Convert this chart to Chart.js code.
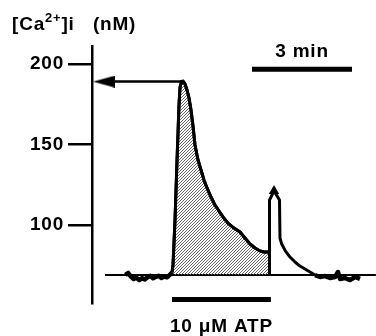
<!DOCTYPE html>
<html>
<head>
<meta charset="utf-8">
<script src="https://cdn.jsdelivr.net/npm/chart.js@4/dist/chart.umd.min.js"></script>
<style>
  body { margin: 0; background: #fff; }
  canvas { display: block; }
</style>
</head>
<body>
<canvas id="chart" width="376" height="336"></canvas>
<script>
// time in seconds, [Ca2+]i in nM
const timeS = [60, 65, 70, 75, 80, 85, 90, 95, 100, 105, 110, 115, 120, 125, 130, 135, 140, 144,
    145.8, 149.4, 153, 156.6, 158.4, 161, 163.8,
    167.4, 171, 174.6, 178.2, 181.8, 185.4, 190.8, 196.2, 201.6, 207, 214.2, 221.4, 228.6, 235.8,
    244.8, 255.6, 266.4, 275.4, 284.4, 293.4, 302.4, 309.6, 316.8, 319.5,
    319.5, 327.6, 337.5, 338.4, 341.5, 348, 356.4, 365.4, 374.4, 383.4, 392.4, 401.4,
    410.4, 419.4, 428.4, 437.4, 442.8, 446.4, 455.4, 464.4, 473.4, 482.4];
const caNM = [69.0, 70.2, 68.0, 66.5, 67.3, 65.8, 67.0, 66.2, 67.6, 68.4, 66.9, 67.8, 68.5, 67.1, 68.0, 67.5, 69.0, 70.5,
    75.2, 103, 140, 174.5, 185.5, 189.1, 189.3,
    187.6, 183.9, 178.9, 171.4, 161.5, 149.7, 140.4, 134.2, 128, 123, 117.4, 112.4, 108.7, 105,
    101.2, 98.1, 95.7, 91.9, 88.2, 85.7, 83.9, 83.2, 83.2, 83.2,
    115.5, 121.2, 115.5, 91.9, 88.2, 83.9, 80.1, 77, 74.5, 72.7, 70.8, 68.9,
    67.7, 68.3, 67.1, 67.7, 70.8, 66.5, 67.1, 65.8, 67.7, 66.5];

const yTicks = [100, 150, 200];
const baselineNM = 69;
const peakNM = 189.1;
const peakTime = 161;
const atpOn = 144;
const atpOff = 322;
const washTime = 319.5;
const tipTime = 327.6;
const scaleBarStart = 288;
const scaleBarLen = 180;   // 3 min

const FAMILY = '"Liberation Sans", Arial, Helvetica, sans-serif';
const FONT = 'bold 19px ' + FAMILY;

const trace = timeS.map((t, i) => ({ x: t, y: caNM[i] }));
const startIdx = timeS.indexOf(atpOn);
const washIdx = timeS.indexOf(washTime);
const shaded = trace.slice(startIdx, washIdx + 1).concat([{ x: washTime, y: baselineNM }]);
const tip = trace.filter(p => p.x === tipTime);

// diagonal hatching for the ATP response
const hatchCanvas = document.createElement('canvas');
hatchCanvas.width = 3;
hatchCanvas.height = 3;
const hg = hatchCanvas.getContext('2d');
hg.strokeStyle = '#5a5a5a';
hg.lineWidth = 0.9;
hg.beginPath();
hg.moveTo(0, 3); hg.lineTo(3, 0);
hg.moveTo(-1, 1); hg.lineTo(1, -1);
hg.moveTo(2, 4); hg.lineTo(4, 2);
hg.stroke();
const ctx = document.getElementById('chart').getContext('2d');
const hatch = ctx.createPattern(hatchCanvas, 'repeat');

// arrow head pointing at the y axis
const head = document.createElement('canvas');
head.width = 22;
head.height = 12;
const hh = head.getContext('2d');
hh.fillStyle = '#000';
hh.beginPath();
hh.moveTo(0, 6); hh.lineTo(22, 0); hh.lineTo(22, 12);
hh.closePath();
hh.fill();

const labels = {
    id: 'labels',
    beforeDraw(chart) {
        chart.ctx.letterSpacing = '0.8px';
    },
    afterDraw(chart) {
        const c = chart.ctx;
        const x = chart.scales.x;
        const y = chart.scales.y;
        c.save();
        c.fillStyle = '#000';
        c.textBaseline = 'alphabetic';
        c.font = FONT;
        c.textAlign = 'left';
        let px = 12;
        c.fillText('[Ca', px, 30);
        px += c.measureText('[Ca').width;
        c.font = 'bold 13px ' + FAMILY;
        c.fillText('2+', px, 22);
        px += c.measureText('2+').width;
        c.font = FONT;
        c.fillText(']i   (nM)', px, 30);

        c.textAlign = 'center';
        c.fillText('3 min', x.getPixelForValue(scaleBarStart + scaleBarLen / 2), y.getPixelForValue(196.8) - 12);
        c.fillText('10 \u03bcM ATP', x.getPixelForValue((atpOn + atpOff) / 2), 332);
        c.restore();
    }
};

new Chart(ctx, {
    type: 'line',
    data: {
        datasets: [
            {
                data: tip,
                borderWidth: 0,
                pointStyle: 'triangle',
                pointRadius: 6,
                pointBackgroundColor: '#000',
                pointBorderWidth: 0,
                showLine: false
            },
            {
                data: trace,
                borderColor: '#000',
                borderWidth: 3,
                borderJoinStyle: 'round',
                pointRadius: 0,
                fill: false,
                segment: {
                    borderWidth: s => (s.p0.parsed.x < atpOn || s.p0.parsed.x > 400) ? 4.5 : 3
                }
            },
            {
                data: shaded,
                borderColor: '#000',
                borderWidth: 3,
                pointRadius: 0,
                backgroundColor: hatch,
                fill: { value: baselineNM },
                order: 5
            },
            {
                data: [{ x: 23.4, y: baselineNM }, { x: 511, y: baselineNM }],
                borderColor: '#000',
                borderWidth: 2,
                pointRadius: 0,
                order: 6
            },
            {
                data: [{ x: 21.6, y: peakNM }, { x: peakTime, y: peakNM }],
                borderColor: '#000',
                borderWidth: 2.5,
                pointStyle: head,
                pointRadius: c => c.dataIndex === 0 ? 6 : 0
            },
            {
                data: [{ x: scaleBarStart, y: 196.8 }, { x: scaleBarStart + scaleBarLen, y: 196.8 }],
                borderColor: '#000',
                borderWidth: 5,
                pointRadius: 0,
                clip: false
            },
            {
                data: [{ x: atpOn, y: 53.7 }, { x: atpOff, y: 53.7 }],
                borderColor: '#000',
                borderWidth: 5,
                pointRadius: 0,
                clip: false
            }
        ]
    },
    options: {
        responsive: false,
        animation: false,
        devicePixelRatio: 1,
        layout: { autoPadding: false, padding: { top: 46, bottom: 33, left: 0, right: 0 } },
        plugins: {
            legend: { display: false },
            tooltip: { enabled: false }
        },
        scales: {
            x: {
                type: 'linear',
                display: false,
                min: 0,
                max: 511.2
            },
            y: {
                min: 51.55,
                max: 211.2,
                afterFit(scale) { scale.width = 92; },
                afterBuildTicks(scale) { scale.ticks = yTicks.map(v => ({ value: v })); },
                border: { display: true, color: '#000', width: 2.5 },
                grid: {
                    drawOnChartArea: false,
                    drawTicks: true,
                    tickLength: 24,
                    color: '#000',
                    lineWidth: 2.5
                },
                ticks: {
                    color: '#000',
                    font: { family: FAMILY, size: 19, weight: 'bold' },
                    padding: 4,
                    autoSkip: false
                }
            }
        }
    },
    plugins: [labels]
});
</script>
</body>
</html>
